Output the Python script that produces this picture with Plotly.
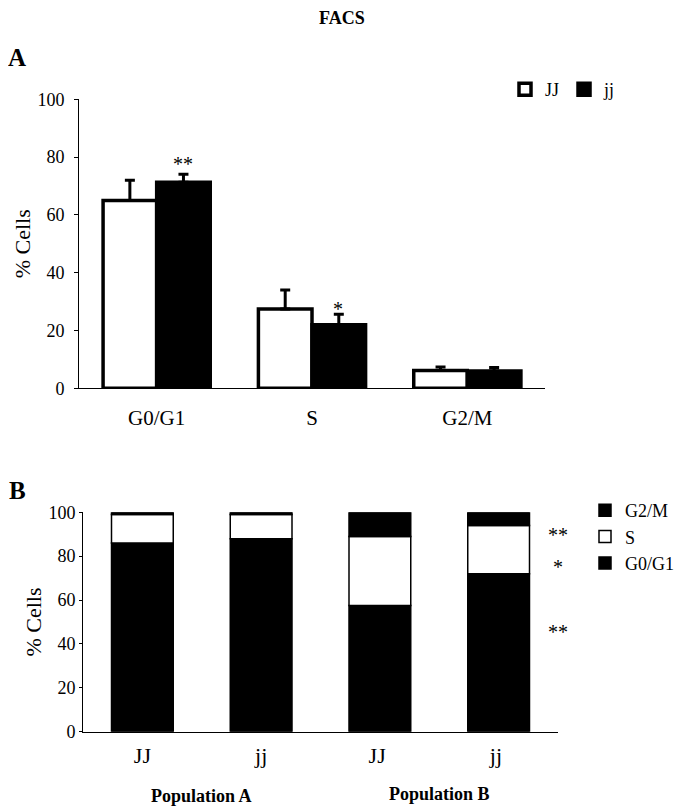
import plotly.graph_objects as go

# ---------- Data ----------
phases = ["G0/G1", "S", "G2/M"]
jj_upper_mean = [65.0, 27.4, 6.2]      # JJ (white)
jj_upper_err = [7.0, 6.6, 1.2]
jj_lower_mean = [71.3, 22.0, 6.0]      # jj (black)
jj_lower_err = [2.8, 3.6, 1.2]

genotypes = ["JJ", "jj", "JJ ", "jj "]
g0g1 = [86.0, 88.0, 57.5, 72.0]
s_phase = [13.0, 11.0, 31.5, 22.0]
g2m = [1.0, 1.0, 11.0, 6.0]

populations = ["Population A", "Population B"]

SERIF = "Liberation Serif, Times New Roman, serif"

fig = go.Figure()

# ---------- Panel A ----------
fig.add_trace(go.Bar(
    x=phases, y=jj_upper_mean, name="JJ", width=0.345, offset=-0.345,
    marker=dict(color="white", line=dict(color="black", width=3.5)),
    error_y=dict(type="data", array=jj_upper_err, arrayminus=[0]*3, symmetric=False,
                 color="black", thickness=3, width=5),
    xaxis="x", yaxis="y", legend="legend"))
fig.add_trace(go.Bar(
    x=phases, y=jj_lower_mean, name="jj", width=0.345, offset=0.0,
    marker=dict(color="black", line=dict(color="black", width=3.5)),
    error_y=dict(type="data", array=jj_lower_err, arrayminus=[0]*3, symmetric=False,
                 color="black", thickness=3, width=5),
    xaxis="x", yaxis="y", legend="legend"))

# ---------- Panel B (stacked via base) ----------
base_s = [a for a in g0g1]
base_g2 = [a + b for a, b in zip(g0g1, s_phase)]
fig.add_trace(go.Bar(
    x=genotypes, y=g0g1, name="G0/G1", width=0.52, offset=-0.26, base=[0]*4,
    marker=dict(color="black", line=dict(color="black", width=1.5)),
    xaxis="x2", yaxis="y2", legend="legend2"))
fig.add_trace(go.Bar(
    x=genotypes, y=s_phase, name="S", width=0.52, offset=-0.26, base=base_s,
    marker=dict(color="white", line=dict(color="black", width=1.5)),
    xaxis="x2", yaxis="y2", legend="legend2"))
fig.add_trace(go.Bar(
    x=genotypes, y=g2m, name="G2/M", width=0.52, offset=-0.26, base=base_g2,
    marker=dict(color="black", line=dict(color="black", width=1.5)),
    xaxis="x2", yaxis="y2", legend="legend2"))

# The page body adds an 8px margin, so the figure is sized to the remaining viewport
OFF = 8
W, H = 683 - OFF, 810 - OFF
def px_x(p): return (p - OFF) / W
def px_y(p): return 1 - (p - OFF) / H

axis_common = dict(showgrid=False, zeroline=False, showline=True, linecolor="black",
                   linewidth=1, color="black")

fig.update_layout(
    width=W, height=H,
    margin=dict(l=0, r=0, t=0, b=0, autoexpand=False),
    paper_bgcolor="white", plot_bgcolor="white",
    font=dict(family=SERIF, color="black", size=18),
    barmode="overlay",
    showlegend=True,
    xaxis=dict(domain=[px_x(79), px_x(545)], anchor="y", ticks="",
               tickfont=dict(size=21), ticklabelstandoff=10, **axis_common),
    yaxis=dict(domain=[px_y(388.3), px_y(99.3)], anchor="x", range=[0, 100],
               tickvals=[0, 20, 40, 60, 80, 100], ticks="outside", ticklen=4,
               tickfont=dict(size=18), ticklabelstandoff=6,
               title=dict(text="% Cells", font=dict(size=22), standoff=0), **axis_common),
    xaxis2=dict(domain=[px_x(83), px_x(558)], anchor="y2", ticks="",
                tickfont=dict(size=22), ticklabelstandoff=4, **axis_common),
    yaxis2=dict(domain=[px_y(731.7), px_y(512.3)], anchor="x2", range=[0, 100],
                tickvals=[0, 20, 40, 60, 80, 100], ticks="outside", ticklen=3,
                tickfont=dict(size=18), ticklabelstandoff=0,
                title=dict(text="% Cells", font=dict(size=22), standoff=0), **axis_common),
    legend=dict(orientation="h", x=px_x(505), y=px_y(71), xanchor="left", yanchor="top",
                font=dict(size=18), bgcolor="rgba(0,0,0,0)", itemwidth=30,
                traceorder="normal"),
    legend2=dict(orientation="v", x=px_x(585), y=px_y(492), xanchor="left", yanchor="top",
                 font=dict(size=18), bgcolor="rgba(0,0,0,0)", itemwidth=30,
                 traceorder="reversed", tracegroupgap=0),
)

ann = []
ann.append(dict(text="<b>FACS</b>", x=px_x(342), y=px_y(18), xref="paper", yref="paper",
                showarrow=False, font=dict(size=18), xanchor="center", yanchor="middle"))
ann.append(dict(text="<b>A</b>", x=px_x(17), y=px_y(57), xref="paper", yref="paper",
                showarrow=False, font=dict(size=25), xanchor="center", yanchor="middle"))
ann.append(dict(text="<b>B</b>", x=px_x(17), y=px_y(490), xref="paper", yref="paper",
                showarrow=False, font=dict(size=25), xanchor="center", yanchor="middle"))
# significance marks panel A
ann.append(dict(text="**", x=phases[0], y=77.5, xref="x", yref="y", xshift=26,
                showarrow=False, font=dict(size=20), yanchor="middle"))
ann.append(dict(text="*", x=phases[1], y=27.5, xref="x", yref="y", xshift=26,
                showarrow=False, font=dict(size=20), yanchor="middle"))
# significance marks panel B
for yv, t in [(89.5, "**"), (75.0, "*"), (45.5, "**")]:
    ann.append(dict(text=t, x=1.0, y=yv, xref="x2 domain", yref="y2",
                    showarrow=False, font=dict(size=20), xanchor="center", yanchor="middle"))
# population labels (centred between the two genotype bars of each population)
pos_a = (142.4 + 261) / 2
pos_b = (380 + 499) / 2
ann.append(dict(text="<b>" + populations[0] + "</b>", x=px_x(pos_a), y=px_y(796), xref="paper",
                yref="paper", showarrow=False, font=dict(size=18), xanchor="center",
                yanchor="middle"))
ann.append(dict(text="<b>" + populations[1] + "</b>", x=px_x(pos_b), y=px_y(794), xref="paper",
                yref="paper", showarrow=False, font=dict(size=18), xanchor="center",
                yanchor="middle"))
fig.update_layout(annotations=ann)

fig.write_html("out.html")
